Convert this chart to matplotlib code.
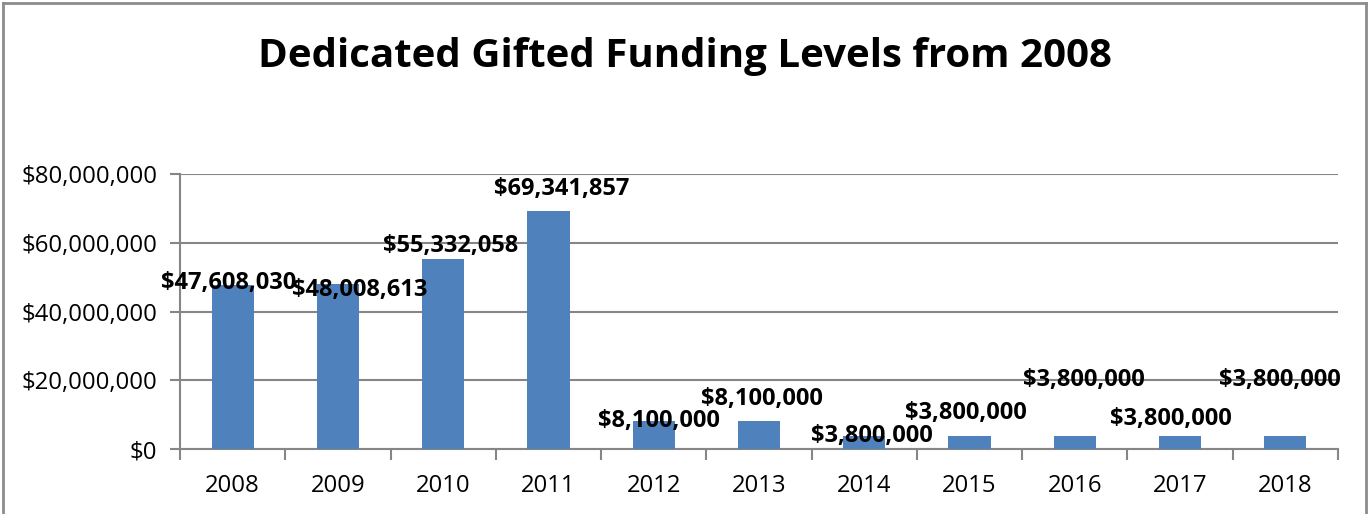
import matplotlib
matplotlib.use("Agg")
import matplotlib.pyplot as plt
from matplotlib.lines import Line2D
from matplotlib.ticker import FuncFormatter, MultipleLocator
import numpy as np

years = ["2008", "2009", "2010", "2011", "2012", "2013", "2014", "2015", "2016", "2017", "2018"]
funding = [47608030, 48008613, 55332058, 69341857, 8100000, 8100000,
           3800000, 3800000, 3800000, 3800000, 3800000]
title = "Dedicated Gifted Funding Levels from 2008"

# label placement offsets (pixels) relative to bar top centre
label_dx = [-4, 22, 7, 13, 5, 3, 8, -4, 9, -9, -5]
label_dy = [2, -6, 13, 22, 0, 22, 0, 23, 56, 17, 56]

plt.rcParams['font.family'] = ['Open Sans', 'DejaVu Sans']

W, H = 1368, 514
fig = plt.figure(figsize=(W / 100, H / 100), dpi=100)
ax = fig.add_axes([180 / W, 1 - 449 / H, (1338 - 180) / W, (449 - 174) / H])

x = np.arange(len(years))
ax.bar(x, funding, width=0.4, color="#4F81BD", zorder=3)

ax.set_xlim(-0.5, len(years) - 0.5)
ax.set_ylim(0, 80000000)
ax.yaxis.set_major_locator(MultipleLocator(20000000))
ax.yaxis.set_major_formatter(FuncFormatter(lambda v, p: "${:,.0f}".format(v)))
ax.grid(axis="y", color="#868686", linewidth=1.5, zorder=0)

ax.set_xticks(x)
ax.set_xticklabels(years)
ax.set_xticks(np.arange(-0.5, len(years)), minor=True)
ax.tick_params(axis="x", which="major", length=0, pad=18, labelsize=17.2)
ax.tick_params(axis="x", which="minor", length=8, width=1.5, color="#868686")
ax.tick_params(axis="y", length=7, width=1.5, color="#868686", labelsize=17.2, pad=9.5)

for s in ["top", "right"]:
    ax.spines[s].set_visible(False)
for s in ["left", "bottom"]:
    ax.spines[s].set_color("#868686")
    ax.spines[s].set_linewidth(1.5)

for i, v in enumerate(funding):
    ax.annotate("${:,.0f}".format(v), xy=(x[i], v), xytext=(label_dx[i], label_dy[i]),
                textcoords="offset pixels", ha="center", va="center",
                fontsize=17, fontweight="bold", zorder=5)

fig.text(685 / W, 1 - 57 / H, title, ha="center", va="center", fontsize=29, fontweight="bold")

# outer chart border (left, top, right)
bc = "#8c8c8c"
fig.add_artist(Line2D([3 / W, 3 / W], [0, 1 - 3 / H], color=bc, linewidth=2, transform=fig.transFigure))
fig.add_artist(Line2D([3 / W, 1 - 2 / W], [1 - 3 / H, 1 - 3 / H], color=bc, linewidth=2, transform=fig.transFigure))
fig.add_artist(Line2D([1 - 2 / W, 1 - 2 / W], [0, 1 - 3 / H], color=bc, linewidth=2, transform=fig.transFigure))

fig.savefig("out.png", dpi=100)
